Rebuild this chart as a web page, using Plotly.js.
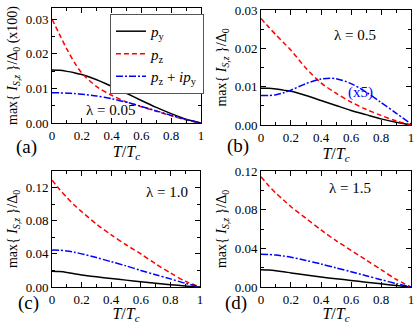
<!DOCTYPE html>
<html>
<head>
<meta charset="utf-8">
<script src="https://cdn.plot.ly/plotly-3.0.1.min.js"></script>
<style>
  html, body { margin: 0; padding: 0; background: #fff; }
  #chart { width: 415px; height: 324px; }
</style>
</head>
<body>
<div id="chart"></div>
<script>
// T/Tc grid shared by every curve
let tGrid = [0, 0.05, 0.1, 0.15, 0.2, 0.3, 0.4, 0.5, 0.6, 0.7, 0.8, 0.9, 1.0];

// panel (a), lambda = 0.05 (values x100)
let pyA    = [0.0153, 0.0152, 0.0149, 0.0145, 0.0140, 0.0125, 0.0106, 0.0086, 0.0065, 0.0045, 0.0027, 0.0011, 0];
let pzA    = [0.0300, 0.0256, 0.0213, 0.0175, 0.0144, 0.0105, 0.0080, 0.0061, 0.0047, 0.0034, 0.0021, 0.0009, 0];
let pzipyA = [0.0087, 0.0087, 0.0086, 0.0085, 0.0083, 0.0078, 0.0070, 0.0060, 0.0048, 0.0035, 0.0022, 0.0010, 0];

// panel (b), lambda = 0.5 (pz+ipy x5)
let pyB    = [0.0096, 0.0096, 0.0094, 0.0091, 0.0088, 0.0077, 0.0064, 0.0051, 0.0038, 0.0027, 0.0016, 0.0007, 0];
let pzB    = [0.0278, 0.0256, 0.0235, 0.0215, 0.0195, 0.0148, 0.0110, 0.0083, 0.0060, 0.0041, 0.0025, 0.0011, 0];
let pzipyB = [0.0077, 0.0077, 0.0079, 0.0084, 0.0091, 0.0108, 0.0120, 0.0121, 0.0108, 0.0086, 0.0059, 0.0031, 0.0003];

// panel (c), lambda = 1.0
let pyC    = [0.0190, 0.0186, 0.0176, 0.0160, 0.0145, 0.0123, 0.0103, 0.0083, 0.0063, 0.0044, 0.0028, 0.0012, 0];
let pzC    = [0.129, 0.118, 0.108, 0.099, 0.091, 0.076, 0.063, 0.051, 0.040, 0.028, 0.017, 0.007, 0];
let pzipyC = [0.0445, 0.0444, 0.0435, 0.0420, 0.0400, 0.0355, 0.0305, 0.0255, 0.0200, 0.0148, 0.0098, 0.0045, 0];

// panel (d), lambda = 1.5
let pyD    = [0.0178, 0.0175, 0.0168, 0.0158, 0.0146, 0.0124, 0.0103, 0.0085, 0.0068, 0.0050, 0.0033, 0.0015, 0];
let pzD    = [0.114, 0.105, 0.097, 0.090, 0.083, 0.071, 0.059, 0.048, 0.038, 0.028, 0.018, 0.008, 0];
let pzipyD = [0.0338, 0.0336, 0.0330, 0.0320, 0.0308, 0.0275, 0.0238, 0.0198, 0.0158, 0.0117, 0.0076, 0.0036, 0];

let seriesNames = ['<i>p</i><sub>y</sub>', '<i>p</i><sub>z</sub>', '<i>p</i><sub>z</sub> + <i>ip</i><sub>y</sub>'];
let lineStyles = [
    { color: '#000000', width: 1.5, dash: 'solid' },
    { color: '#ff0000', width: 1.5, dash: '5px,3px' },
    { color: '#0000ff', width: 1.5, dash: '7px,2px,2px,2px' }
];

let panels = [
    { sets: [pyA, pzA, pzipyA], xa: 'x',  ya: 'y'  },
    { sets: [pyB, pzB, pzipyB], xa: 'x2', ya: 'y2' },
    { sets: [pyC, pzC, pzipyC], xa: 'x3', ya: 'y3' },
    { sets: [pyD, pzD, pzipyD], xa: 'x4', ya: 'y4' }
];

let traces = [];
panels.forEach((p, pi) => {
    p.sets.forEach((vals, si) => {
        traces.push({
            x: tGrid, y: vals, xaxis: p.xa, yaxis: p.ya,
            type: 'scatter', mode: 'lines',
            line: Object.assign({ shape: 'spline', smoothing: 0.8 }, lineStyles[si]),
            name: seriesNames[si],
            showlegend: pi === 0,
            hoverinfo: 'skip'
        });
    });
});

let serif = 'Liberation Serif, Times New Roman, serif';

function xAxis(domain, anchor) {
    return {
        domain: domain, anchor: anchor, range: [0, 1],
        tickvals: [0, 0.2, 0.4, 0.6, 0.8, 1], ticktext: ['0', '0.2', '0.4', '0.6', '0.8', '1'],
        ticks: 'inside', ticklen: 5, tickcolor: '#000',
        minor: { dtick: 0.1, ticks: 'inside', ticklen: 3, tickcolor: '#000' },
        showline: true, linecolor: '#000', linewidth: 1, mirror: 'allticks',
        showgrid: false, zeroline: false,
        tickfont: { family: serif, size: 13, color: '#000' },
        title: { text: '<i>T</i>/<i>T</i><sub><i>c</i></sub>', standoff: 2,
                 font: { family: serif, size: 16, color: '#000' } }
    };
}

function yAxis(domain, anchor, range, dtick, minorTick, fmt, titleText) {
    return {
        domain: domain, anchor: anchor, range: range,
        dtick: dtick, tick0: 0, tickformat: fmt,
        ticks: 'inside', ticklen: 5, tickcolor: '#000',
        minor: { dtick: minorTick, ticks: 'inside', ticklen: 3, tickcolor: '#000' },
        showline: true, linecolor: '#000', linewidth: 1, mirror: 'allticks',
        showgrid: false, zeroline: false,
        tickfont: { family: serif, size: 13, color: '#000' },
        title: { text: titleText, standoff: 4,
                 font: { family: serif, size: 14, color: '#000' } }
    };
}

let yTitleMain = 'max{ <i>I</i><sub><i>S</i>,<i>z</i></sub> }/Δ<sub>0</sub>';

let layout = {
    width: 415, height: 324,
    margin: { l: 0, r: 0, t: 0, b: 0 },
    paper_bgcolor: '#fff', plot_bgcolor: '#fff',
    font: { family: serif, color: '#000' },
    showlegend: true,
    legend: {
        x: 0.265, y: 0.957, xanchor: 'left', yanchor: 'top',
        bgcolor: '#fff', bordercolor: '#555', borderwidth: 1,
        font: { family: serif, size: 15, color: '#000' },
        tracegroupgap: 0, itemwidth: 30
    },
    xaxis:  xAxis([0.1253, 0.4843], 'y'),
    yaxis:  yAxis([0.6204, 0.9753], 'x',  [0, 0.0332], 0.01, 0.005, '.2f', yTitleMain + ' (x100)'),
    xaxis2: xAxis([0.6289, 0.9904], 'y2'),
    yaxis2: yAxis([0.6142, 0.9691], 'x2', [0, 0.03], 0.01, 0.005, '.2f', yTitleMain),
    xaxis3: xAxis([0.1253, 0.4819], 'y3'),
    yaxis3: yAxis([0.1142, 0.4722], 'x3', [0, 0.14], 0.04, 0.02, '.2f', yTitleMain),
    xaxis4: xAxis([0.6289, 0.9904], 'y4'),
    yaxis4: yAxis([0.1142, 0.4722], 'x4', [0, 0.12], 0.04, 0.02, '.2f', yTitleMain),
    annotations: [
        { text: '(a)', x: 0.034, y: 0.546 },
        { text: '(b)', x: 0.573, y: 0.549 },
        { text: '(c)', x: 0.039, y: 0.025 },
        { text: '(d)', x: 0.569, y: 0.025 },
    ].map(a => Object.assign(a, {
        xref: 'paper', yref: 'paper', showarrow: false,
        font: { family: serif, size: 19, color: '#000' }
    })).concat([
        { text: 'λ = 0.05', x: 0.202, y: 0.660 },
        { text: 'λ = 0.5',  x: 0.911, y: 0.923 },
        { text: 'λ = 1.0',  x: 0.402, y: 0.407 },
        { text: 'λ = 1.5',  x: 0.899, y: 0.420 }
    ].map(a => Object.assign(a, {
        xref: 'paper', yref: 'paper', showarrow: false,
        font: { family: serif, size: 15, color: '#000' }
    }))).concat([
        { text: '(x5)', x: 0.904, y: 0.747, xref: 'paper', yref: 'paper', showarrow: false,
          font: { family: serif, size: 15, color: '#0000ff' } }
    ])
};

Plotly.newPlot('chart', traces, layout, { displayModeBar: false, staticPlot: true });
</script>
</body>
</html>
